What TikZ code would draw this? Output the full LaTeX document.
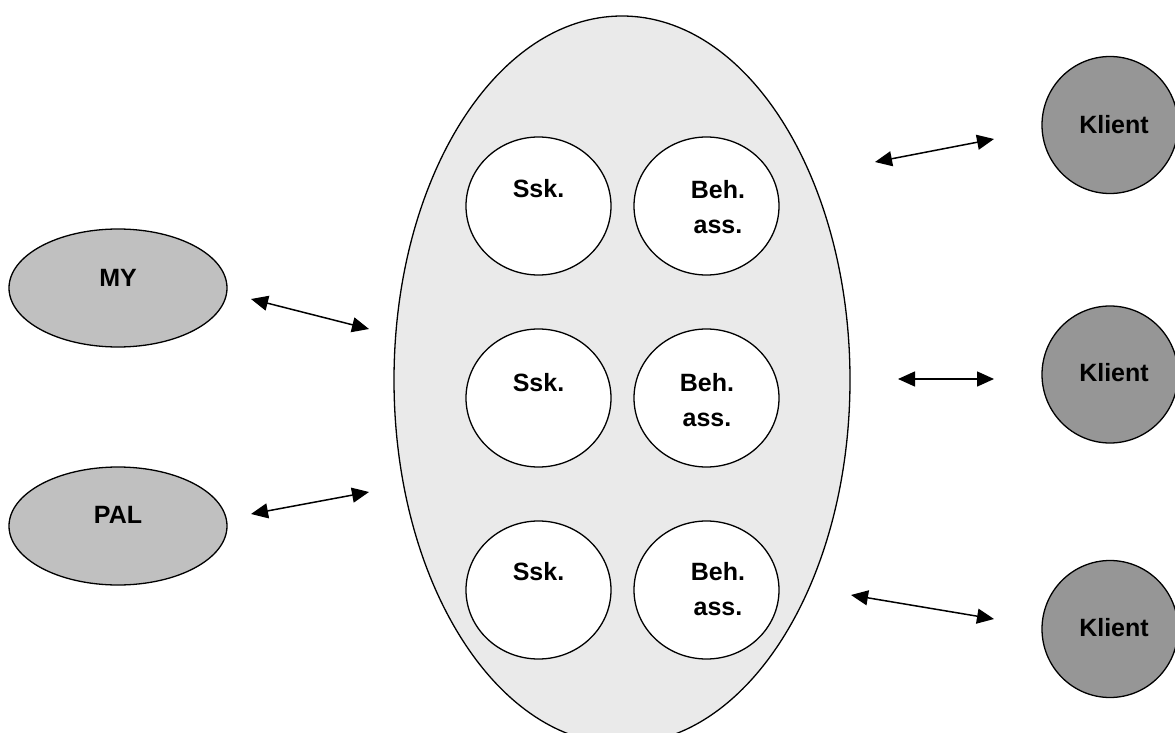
\documentclass[tikz,border=0pt]{standalone}
\usepackage{fontspec}
\setmainfont{Liberation Sans}
\usetikzlibrary{shapes.geometric,arrows.meta}
\definecolor{bigfill}{HTML}{EAEAEA}
\definecolor{sidefill}{HTML}{C0C0C0}
\definecolor{klientfill}{HTML}{969696}
\tikzset{
  oval/.style={ellipse,draw=black,line width=1.3pt,inner sep=0pt},
  big/.style={oval,fill=bigfill,minimum width=456pt,minimum height=728pt},
  side/.style={oval,fill=sidefill,minimum width=218pt,minimum height=118pt},
  small/.style={oval,fill=white,minimum width=145pt,minimum height=138pt},
  klient/.style={oval,fill=klientfill,minimum width=136pt,minimum height=137pt},
  lbl/.style={font=\fontsize{25}{35}\selectfont\bfseries,align=center,inner sep=0pt},
  arr/.style={line width=1.5pt,{Triangle[length=17pt,width=15pt]}-{Triangle[length=17pt,width=15pt]}}
}
\begin{document}
\begin{tikzpicture}[x=1pt,y=-1pt]
\useasboundingbox (0,0) rectangle (1175,733);
\fill[white] (0,0) rectangle (1175,733);
\node[big] (main) at (622,380) {};
% small circles
\node[small] (s1) at (538.5,206) {};
\node[small] (b1) at (706.5,206) {};
\node[small] (s2) at (538.5,398) {};
\node[small] (b2) at (706.5,398) {};
\node[small] (s3) at (538.5,590) {};
\node[small] (b3) at (706.5,590) {};
\node[lbl] (s1t) at (538.5,189) {Ssk.};
\node[lbl] (b1t) at (718,207) {Beh.\\ass.};
\node[lbl] (s2t) at (538.5,383) {Ssk.};
\node[lbl] (b2t) at (707,400) {Beh.\\ass.};
\node[lbl] (s3t) at (538.5,572) {Ssk.};
\node[lbl] (b3t) at (718,589) {Beh.\\ass.};
% side ellipses
\node[side] (my) at (118,288) {};
\node[lbl] (myt) at (118,278) {MY};
\node[side] (pal) at (118,526) {};
\node[lbl] (palt) at (118,515) {PAL};
% klients
\node[klient] (k1) at (1110,125) {};
\node[lbl] (k1t) at (1114,125) {Klient};
\node[klient] (k2) at (1110,374.5) {};
\node[lbl] (k2t) at (1114,373) {Klient};
\node[klient] (k3) at (1110,629) {};
\node[lbl] (k3t) at (1114,628) {Klient};
% arrow ends
\coordinate (a1) at (251,299); \coordinate (a2) at (369,329);
\coordinate (c1) at (251,514); \coordinate (c2) at (369,492);
\coordinate (d1) at (875,162); \coordinate (d2) at (994,139);
\coordinate (e1) at (898,379); \coordinate (e2) at (994,379);
\coordinate (f1) at (851,595); \coordinate (f2) at (994,619);
\draw[arr] (a1) -- (a2);
\draw[arr] (c1) -- (c2);
\draw[arr] (d1) -- (d2);
\draw[arr] (e1) -- (e2);
\draw[arr] (f1) -- (f2);
\end{tikzpicture}
\end{document}
